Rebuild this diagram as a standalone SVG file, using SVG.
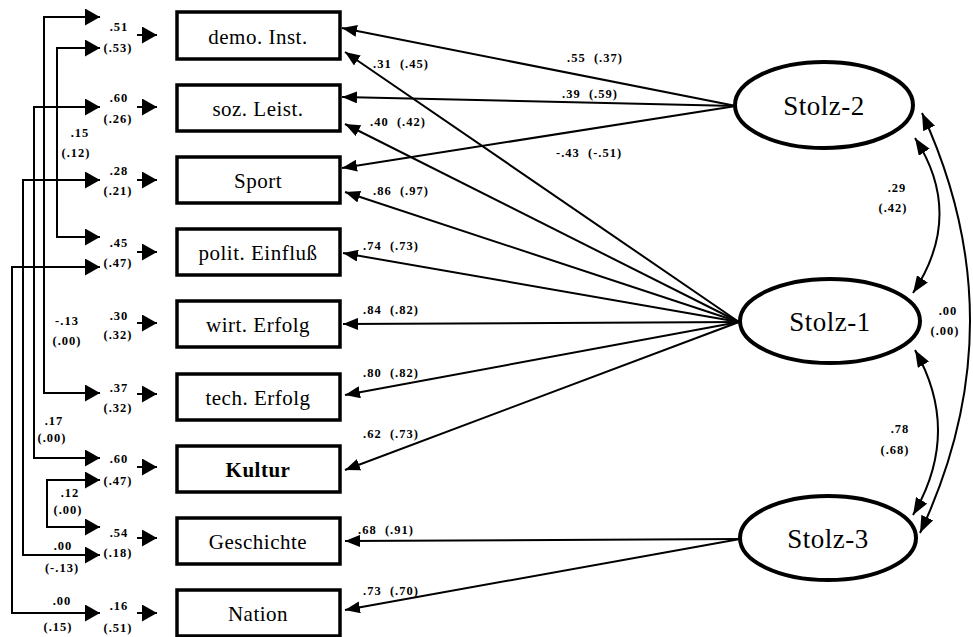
<svg xmlns="http://www.w3.org/2000/svg" width="973" height="637" viewBox="0 0 973 637">
<defs>
<marker id="ah" markerUnits="userSpaceOnUse" viewBox="0 0 15 12" refX="15" refY="6" markerWidth="15" markerHeight="12" orient="auto-start-reverse"><path d="M0,0 L15,6 L0,12 z" fill="#000"/></marker>
<marker id="big" markerUnits="userSpaceOnUse" viewBox="0 0 15 17" refX="15" refY="8.5" markerWidth="15" markerHeight="17" orient="auto-start-reverse"><path d="M0,0 L15,8.5 L0,17 z" fill="#000"/></marker>
<marker id="cv" markerUnits="userSpaceOnUse" viewBox="0 0 17 13" refX="17" refY="6.5" markerWidth="17" markerHeight="13" orient="auto-start-reverse"><path d="M0,0 L17,6.5 L0,13 z" fill="#000"/></marker>
</defs>
<style>
.box{fill:#fff;stroke:#000;stroke-width:3.5}
.lat{fill:#fff;stroke:#000;stroke-width:4}
.bl{font-family:"Liberation Serif","Times New Roman",serif;font-size:21px;letter-spacing:0.5px;text-anchor:middle;fill:#000}
.ll{font-family:"Liberation Serif","Times New Roman",serif;font-size:27px;letter-spacing:0.5px;text-anchor:middle;fill:#000}
.n{font-family:"Liberation Serif","Times New Roman",serif;font-size:12.5px;font-weight:bold;letter-spacing:1px;fill:#000}
.m{text-anchor:middle}
.p{white-space:pre}
.ln{fill:none;stroke:#000;stroke-width:2}
.sa{fill:none;stroke:#000;stroke-width:2;marker-end:url(#big)}
.la{fill:none;stroke:#000;stroke-width:2;marker-end:url(#ah)}
.cr{fill:none;stroke:#000;stroke-width:2;marker-start:url(#big);marker-end:url(#big)}
.cc{fill:none;stroke:#000;stroke-width:2;marker-start:url(#cv);marker-end:url(#cv)}
</style>
<rect width="973" height="637" fill="#fff"/>
<g id="connectors">
<path class="la" d="M736,106 L342,28"/>
<path class="la" d="M736,106 L342,97"/>
<path class="la" d="M736,106 L342,168"/>
<path class="la" d="M739,322 L345,52"/>
<path class="la" d="M739,322 L345,124"/>
<path class="la" d="M739,322 L345,192"/>
<path class="la" d="M739,322 L343,253"/>
<path class="la" d="M739,322 L343,324"/>
<path class="la" d="M739,322 L345,395"/>
<path class="la" d="M739,322 L345,470"/>
<path class="la" d="M740,539 L345,541"/>
<path class="la" d="M740,539 L345,610"/>
<path class="cc" d="M915,138 Q965,215 913,293"/>
<path class="cc" d="M922,113 Q1019,323 920,533"/>
<path class="cc" d="M915,350 Q962,432 913,515"/>
<path class="cr" d="M100,17 H44 V393 H100"/>
<path class="cr" d="M100,48 H57 V237 H100"/>
<path class="cr" d="M100,107 H34 V458 H100"/>
<path class="cr" d="M100,180 H23 V555 H100"/>
<path class="cr" d="M100,267 H12 V613 H100"/>
<path class="cr" d="M100,480 H47 V527 H100"/>
<path class="sa" d="M137,35 H157"/>
<path class="sa" d="M137,107 H157"/>
<path class="sa" d="M137,180 H157"/>
<path class="sa" d="M137,252 H157"/>
<path class="sa" d="M137,323 H157"/>
<path class="sa" d="M137,394 H157"/>
<path class="sa" d="M137,467 H157"/>
<path class="sa" d="M137,538 H157"/>
<path class="sa" d="M137,613 H157"/>
</g>
<g id="labels">
<text class="n p" x="567" y="62">.55  (.37)</text>
<text class="n p" x="562" y="98">.39  (.59)</text>
<text class="n p" x="556" y="157">-.43  (-.51)</text>
<text class="n p" x="373" y="68">.31  (.45)</text>
<text class="n p" x="370" y="126">.40  (.42)</text>
<text class="n p" x="373" y="195">.86  (.97)</text>
<text class="n p" x="363" y="250">.74  (.73)</text>
<text class="n p" x="363" y="314">.84  (.82)</text>
<text class="n p" x="363" y="377">.80  (.82)</text>
<text class="n p" x="363" y="438">.62  (.73)</text>
<text class="n p" x="358" y="534">.68  (.91)</text>
<text class="n p" x="363" y="595">.73  (.70)</text>
<text class="n m" x="897" y="192">.29</text><text class="n m" x="893" y="212">(.42)</text>
<text class="n m" x="948" y="315">.00</text><text class="n m" x="945" y="335">(.00)</text>
<text class="n m" x="900" y="433">.78</text><text class="n m" x="895" y="454">(.68)</text>
<text class="n m" x="80" y="137">.15</text><text class="n m" x="76" y="157">(.12)</text>
<text class="n m" x="67" y="325">-.13</text><text class="n m" x="67" y="345">(.00)</text>
<text class="n m" x="54" y="425">.17</text><text class="n m" x="52" y="442">(.00)</text>
<text class="n m" x="70" y="497">.12</text><text class="n m" x="68" y="514">(.00)</text>
<text class="n m" x="63" y="550">.00</text><text class="n m" x="62" y="572">(-.13)</text>
<text class="n m" x="62" y="605">.00</text><text class="n m" x="58" y="631">(.15)</text>
<text class="n m" x="119" y="31">.51</text><text class="n m" x="118" y="52">(.53)</text>
<text class="n m" x="119" y="102">.60</text><text class="n m" x="118" y="123">(.26)</text>
<text class="n m" x="119" y="175">.28</text><text class="n m" x="118" y="195">(.21)</text>
<text class="n m" x="119" y="247">.45</text><text class="n m" x="118" y="267">(.47)</text>
<text class="n m" x="119" y="320">.30</text><text class="n m" x="118" y="339">(.32)</text>
<text class="n m" x="119" y="392">.37</text><text class="n m" x="118" y="412">(.32)</text>
<text class="n m" x="119" y="463">.60</text><text class="n m" x="118" y="485">(.47)</text>
<text class="n m" x="119" y="537">.54</text><text class="n m" x="118" y="557">(.18)</text>
<text class="n m" x="119" y="610">.16</text><text class="n m" x="118" y="632">(.51)</text>
</g>
<g id="demo"><rect class="box" x="177" y="12" width="163" height="47"/><text class="bl" x="258" y="44">demo. Inst.</text></g>
<g id="soz"><rect class="box" x="177" y="85" width="163" height="46"/><text class="bl" x="258" y="116">soz. Leist.</text></g>
<g id="sport"><rect class="box" x="177" y="157" width="163" height="46"/><text class="bl" x="258" y="188">Sport</text></g>
<g id="polit"><rect class="box" x="177" y="229" width="163" height="46"/><text class="bl" x="258" y="260">polit. Einfluß</text></g>
<g id="wirt"><rect class="box" x="177" y="301" width="163" height="46"/><text class="bl" x="258" y="332">wirt. Erfolg</text></g>
<g id="tech"><rect class="box" x="177" y="374" width="163" height="46"/><text class="bl" x="258" y="405">tech. Erfolg</text></g>
<g id="kultur"><rect class="box" x="177" y="446" width="163" height="46"/><text class="bl" x="258" y="477" font-weight="bold">Kultur</text></g>
<g id="geschichte"><rect class="box" x="177" y="518" width="163" height="46"/><text class="bl" x="258" y="549">Geschichte</text></g>
<g id="nation"><rect class="box" x="177" y="590" width="163" height="46"/><text class="bl" x="258" y="621">Nation</text></g>
<g id="stolz2"><ellipse class="lat" cx="824" cy="105" rx="89" ry="43"/><text class="ll" x="824" y="115">Stolz-2</text></g>
<g id="stolz1"><ellipse class="lat" cx="830" cy="321" rx="90" ry="42"/><text class="ll" x="830" y="331">Stolz-1</text></g>
<g id="stolz3"><ellipse class="lat" cx="828" cy="538" rx="88" ry="42"/><text class="ll" x="828" y="548">Stolz-3</text></g>
</svg>
